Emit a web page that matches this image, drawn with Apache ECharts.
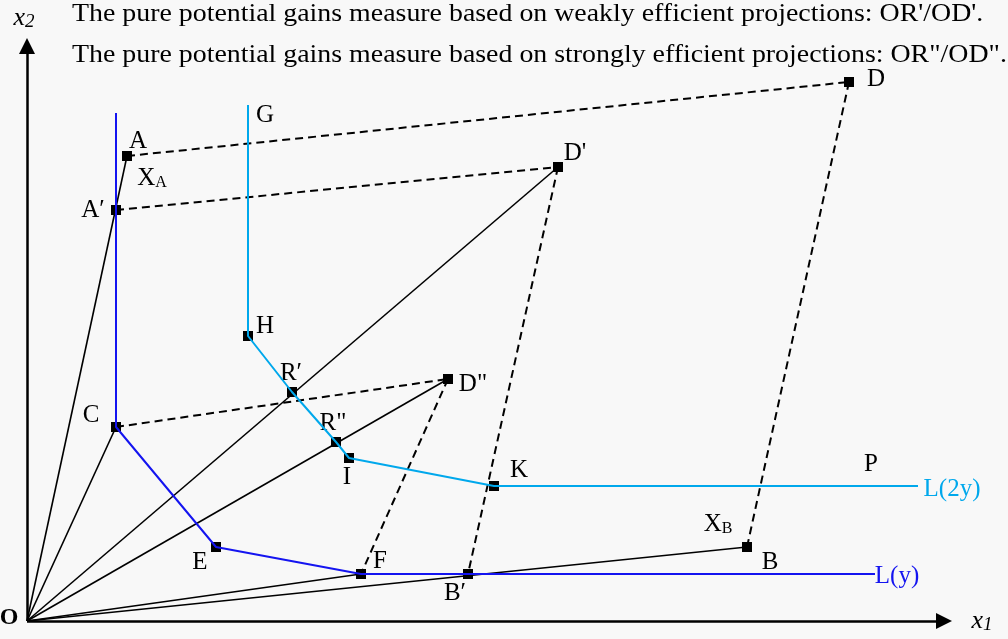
<!DOCTYPE html>
<html><head><meta charset="utf-8">
<script src="https://cdn.jsdelivr.net/npm/echarts@6/dist/echarts.min.js"></script>
<style>html,body{margin:0;padding:0;background:#f8f8f8}#c{width:1008px;height:639px}</style>
</head><body><div id="c"></div><script>
// points in chart units (origin O)
const O = [0, 0];
const A = [100, 465];
const Ap = [89, 411];
const C = [89, 194];
const E = [189, 74];
const F = [334, 47];
const Bp = [441, 47];
const B = [720, 74];
const D = [822, 539];
const Dp = [531, 454];
const Dpp = [421, 242];
const G = [221, 516];
const H = [221, 285];
const Rp = [265, 229];
const Rpp = [309, 179];
const I = [322, 163];
const K = [467, 135];
const blueTop = [89, 508];
const blueEnd = [848, 47];
const cyanEnd = [891, 135];
const x1Tip = [925, 0];
const x2Tip = [0, 583];

const rays = [A, C, Dp, Dpp, F, B];
const dashedPairs = [[A, D], [Ap, Dp], [C, Dpp], [D, B], [Dp, Bp], [Dpp, F]];
const bluePath = [blueTop, Ap, C, E, F, blueEnd];
const cyanPath = [G, H, Rp, Rpp, I, K, cyanEnd];
const markers = [A, Ap, C, E, F, Bp, B, D, Dp, Dpp, H, Rp, Rpp, I, K];

const labelTexts = ['A', 'X_A', 'A′', 'G', 'D', "D'", 'H', 'R′', 'R"', 'C', 'D"', 'I', 'K', 'P', 'L(2y)', 'L(y)', 'X_B', 'B', 'E', 'F', 'B′', 'O', '~x_2', '~x_1'];
const labelPos = [[111, 480], [125, 443], [66, 411], [238, 506], [849, 542], [548, 468], [238, 295], [264, 248], [306, 198], [64, 206], [446, 237], [320, 144], [492, 151], [844, 157], [925, 132], [870, 45], [691, 97], [743, 59], [173, 59], [353, 60], [428, 28], [-18, 3], [-3, 603], [955, 0]];
const titleLines = [
  "The pure potential gains measure based on weakly efficient projections: OR'/OD'.",
  'The pure potential gains measure based on strongly efficient projections: OR"/OD".'
];

const CYAN = '#00a8ec', BLUE = '#1414f0', SERIF = 'Liberation Serif', INK = '#000';

function richText(t) {
  if (t[0] === '~') { const p = t.slice(1).split('_'); return '{im|' + p[0] + '}{is|' + p[1] + '}'; }
  if (t.indexOf('_') >= 0) { const p = t.split('_'); return '{m|' + p[0] + '}{s|' + p[1] + '}'; }
  return '{m|' + t + '}';
}
function labelColor(t) { return t === 'L(2y)' ? CYAN : (t === 'L(y)' ? BLUE : INK); }

const chart = echarts.init(document.getElementById('c'), null, {renderer: 'canvas'});
chart.setOption({
  backgroundColor: '#f8f8f8',
  animation: false,
  grid: {left: 0, right: 0, top: 0, bottom: 0},
  xAxis: {type: 'value', min: -27, max: 981, show: false},
  yAxis: {type: 'value', min: -18, max: 621, show: false},
  graphic: titleLines.map((t, i) => ({
    type: 'text', x: 72, y: 2 + i * 41, scaleX: 1.115,
    style: {text: t, font: '25px "' + SERIF + '"', fill: INK}
  })),
  series: [
    {type: 'lines', coordinateSystem: 'cartesian2d', symbol: ['none', 'triangle'], symbolSize: [16, 16],
      lineStyle: {color: '#000', width: 2.5, opacity: 1},
      data: [{coords: [O, [x1Tip[0] - 8, x1Tip[1]]]}, {coords: [O, [x2Tip[0], x2Tip[1] - 8]]}]},
    {type: 'lines', coordinateSystem: 'cartesian2d', symbol: 'none',
      lineStyle: {color: '#000', width: 1.6, opacity: 1},
      data: rays.map(p => ({coords: [O, p]}))},
    {type: 'lines', coordinateSystem: 'cartesian2d', symbol: 'none',
      lineStyle: {color: '#000', width: 2, type: [8, 5], opacity: 1},
      data: dashedPairs.map(p => ({coords: p}))},
    {type: 'line', data: bluePath, showSymbol: false, lineStyle: {color: BLUE, width: 2}, itemStyle: {color: BLUE}},
    {type: 'line', data: cyanPath, showSymbol: false, lineStyle: {color: CYAN, width: 2}, itemStyle: {color: CYAN}},
    {type: 'scatter', data: markers, symbol: 'rect', symbolSize: 10, itemStyle: {color: '#000', opacity: 1}},
    {type: 'scatter', symbolSize: 0, clip: false, itemStyle: {color: 'rgba(0,0,0,0)'},
      data: labelTexts.map((t, i) => {
        const item = {name: t, value: labelPos[i]};
        const c = labelColor(t);
        if (c !== INK) item.label = {color: c, rich: {m: {color: c, fontFamily: SERIF, fontSize: 25, lineHeight: 25}}};
        if (t === 'O') item.label = {rich: {m: {fontWeight: 'bold', fontFamily: SERIF, fontSize: 24, lineHeight: 24, color: INK}}};
        return item;
      }),
      label: {
        show: true, position: 'inside', color: INK, textBorderWidth: 0, textBorderColor: 'transparent', opacity: 1,
        formatter: p => richText(p.name),
        rich: {
          m: {fontFamily: SERIF, fontSize: 25, lineHeight: 25, color: INK, textBorderWidth: 0},
          s: {fontFamily: SERIF, fontSize: 16, lineHeight: 8, verticalAlign: 'bottom', color: INK, textBorderWidth: 0},
          im: {fontFamily: SERIF, fontSize: 26, lineHeight: 26, fontStyle: 'italic', color: INK, textBorderWidth: 0},
          is: {fontFamily: SERIF, fontSize: 19, lineHeight: 15, fontStyle: 'italic', verticalAlign: 'bottom', color: INK, textBorderWidth: 0}
        }
      }
    }
  ]
});
</script></body></html>
